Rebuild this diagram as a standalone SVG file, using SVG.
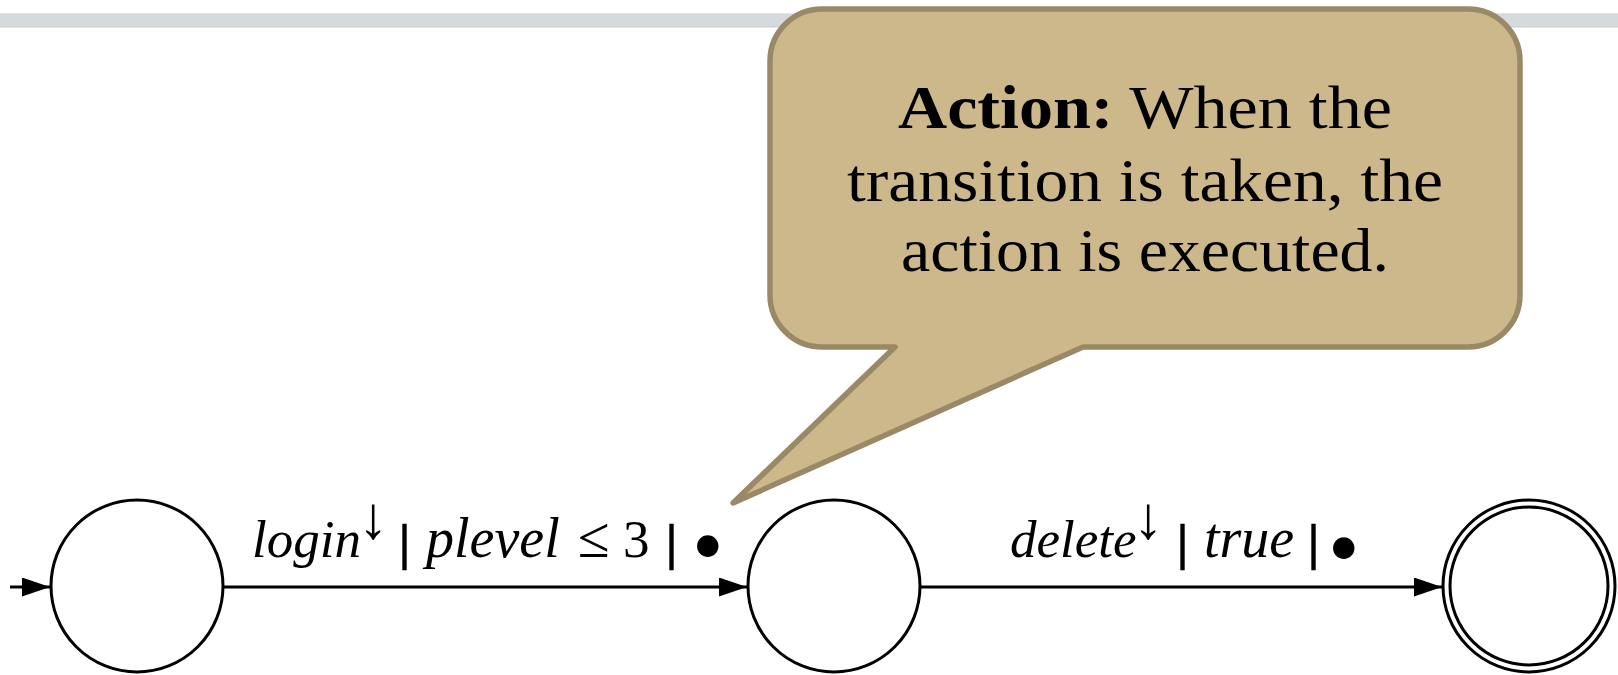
<svg xmlns="http://www.w3.org/2000/svg" width="1618" height="675" viewBox="0 0 1618 675">
<style>
.state{fill:#ffffff;stroke:#000000;stroke-width:3}
.edge{fill:none;stroke:#000000;stroke-width:3}
.callout{fill:#ccb88a;stroke:#9a8966;stroke-width:5.5;stroke-linejoin:round}
.ctext{font-family:"Liberation Serif",serif;font-size:62px;fill:#000000;text-anchor:middle}
.lbl{font-family:"Liberation Serif",serif;font-size:53px;fill:#000000}
.it{font-style:italic}
.wide{font-size:56px}
.sup{font-size:60px}
.bar{font-size:50px;font-weight:bold;stroke:#000000;stroke-width:0.7}
.le{font-size:58px}
.dot{font-size:90px}
</style>
<defs>
<marker id="arrow" markerUnits="userSpaceOnUse" markerWidth="30" markerHeight="20" refX="28" refY="9.5" orient="auto">
<path d="M0,0 L28,9.5 L0,19 Z" fill="#000000"/>
</marker>
</defs>
<rect x="0" y="13" width="1618" height="14" fill="#d5dadd"/>
<line x1="0" y1="13.5" x2="1618" y2="13.5" stroke="#e6e3dc" stroke-width="1"/>
<line x1="0" y1="27" x2="1618" y2="27" stroke="#c8ccce" stroke-width="1"/>
<g id="connectors">
<line class="edge" x1="10" y1="587" x2="50" y2="587" marker-end="url(#arrow)"/>
<line class="edge" x1="223" y1="587" x2="747" y2="587" marker-end="url(#arrow)"/>
<line class="edge" x1="920" y1="587" x2="1442" y2="587" marker-end="url(#arrow)"/>
<text class="lbl" y="557"><tspan class="it" x="252">login</tspan><tspan class="sup" x="358" y="538">↓</tspan><tspan class="bar" x="399" y="559">|</tspan><tspan class="it wide" x="426" y="557">plevel</tspan><tspan class="le" x="578">≤</tspan><tspan x="623">3</tspan><tspan class="bar" x="666" y="559">|</tspan><tspan class="dot" x="692" y="576">•</tspan></text>
<text class="lbl" y="557"><tspan class="it" x="1010">delete</tspan><tspan class="sup" x="1133" y="538">↓</tspan><tspan class="bar" x="1177" y="559">|</tspan><tspan class="it wide" x="1204" y="557">true</tspan><tspan class="bar" x="1308" y="559">|</tspan><tspan class="dot" x="1328" y="578">•</tspan></text>
</g>
<g id="s0"><circle class="state" cx="137" cy="586" r="86"/></g>
<g id="s1"><circle class="state" cx="834" cy="586" r="86"/></g>
<g id="s2"><circle class="state" cx="1529" cy="586" r="86"/><circle class="state" cx="1529" cy="586" r="79"/></g>
<g id="callout">
<path class="callout" d="M822,9 H1468 A52,52 0 0 1 1520,61 V295 A52,52 0 0 1 1468,347 H1083 L733,503 L895,347 H822 A52,52 0 0 1 770,295 V61 A52,52 0 0 1 822,9 Z"/>
<text class="ctext" x="1145" y="128" textLength="494" lengthAdjust="spacingAndGlyphs"><tspan font-weight="bold">Action:</tspan> When the</text>
<text class="ctext" x="1145" y="201" textLength="596" lengthAdjust="spacingAndGlyphs">transition is taken, the</text>
<text class="ctext" x="1145" y="271" textLength="488" lengthAdjust="spacingAndGlyphs">action is executed.</text>
</g>
</svg>
